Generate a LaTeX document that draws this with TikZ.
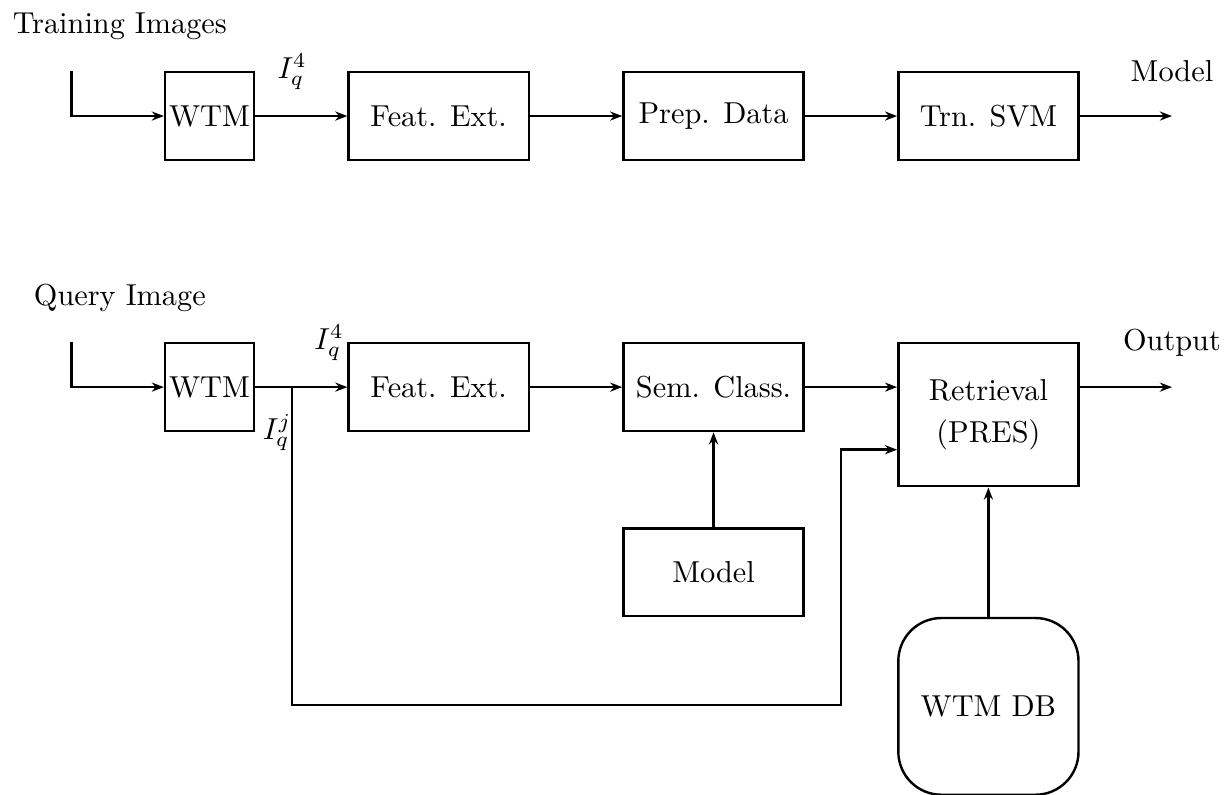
\documentclass[tikz,border=0pt]{standalone}
\usetikzlibrary{positioning,arrows.meta}
\begin{document}
\begin{tikzpicture}[
  node distance=1.07cm,
  block/.style={draw, thick, minimum width=2.09cm, minimum height=1.02cm, inner sep=1pt},
  smallblock/.style={block, minimum width=1.03cm},
  dbblock/.style={draw, thick, rounded corners=0.5cm, minimum width=2.09cm, minimum height=2.05cm},
  arr/.style={thick, -{Stealth[length=4pt, width=3pt]}},
  lbl/.style={anchor=base, inner sep=0pt}
  ]
  \useasboundingbox (0,0) rectangle (14.22,-9.21);

  % training
  \node[lbl] (trainlbl) at (1.39,-0.383) {Training Images};
  \node[smallblock] (wtmA) at (2.43,-1.346) {WTM};
  \node[block, right=of wtmA] (featA) {Feat. Ext.};
  \node[block, right=of featA] (prep) {Prep. Data};
  \node[block, right=of prep] (svm) {Trn. SVM};
  \coordinate (inA) at ([xshift=-1.07cm]wtmA.north west);
  \draw[arr] (inA) |- (wtmA.west);
  \draw[arr] (wtmA) -- (featA);
  \draw[arr] (featA) -- (prep);
  \draw[arr] (prep) -- (svm);
  \draw[arr] (svm.east) -- ++(1.07,0) node[lbl, yshift=0.4cm] (mdlout) {Model};
  \node[lbl] (iqA) at ([xshift=0.43cm, yshift=0.44cm]wtmA.east) {$I_q^4$};

  % query
  \node[lbl] (querylbl) at (1.39,-3.54) {Query Image};
  \node[smallblock] (wtmB) at (2.43,-4.49) {WTM};
  \node[block, right=of wtmB] (featB) {Feat. Ext.};
  \node[block, right=of featB] (sem) {Sem. Class.};
  \node[block, anchor=north west, minimum height=1.66cm, align=center] (ret)
    at ([xshift=1.07cm]sem.north east) {Retrieval\\[1.8pt](PRES)};
  \node[block, below=1.1cm of sem] (model) {Model};
  \node[dbblock, below=1.5cm of ret] (db) {WTM DB};
  \coordinate (inB) at ([xshift=-1.07cm]wtmB.north west);
  \coordinate (br) at ([xshift=0.43cm]wtmB.east);
  \coordinate (retin) at ([yshift=-1.25cm]ret.north west);
  \draw[arr] (inB) |- (wtmB.west);
  \draw[arr] (wtmB.east) -- (featB.west);
  \draw[arr] (featB) -- (sem);
  \draw[arr] (sem.east) -- (sem.east -| ret.west);
  \draw[arr] (model) -- (sem);
  \draw[arr] (db) -- (ret);
  \draw[arr] (br) -- ++(0,-3.69) -| ([xshift=-0.65cm]retin) -- (retin);
  \draw[arr] (ret.east |- sem.east) -- ++(1.07,0) node[lbl, yshift=0.42cm] (outlbl) {Output};
  \node[lbl] (iqB) at ([xshift=0.858cm, yshift=0.44cm]wtmB.east) {$I_q^4$};
  \node[lbl] (iqj) at ([xshift=0.255cm, yshift=-0.603cm]wtmB.east) {$I_q^j$};
\end{tikzpicture}
\end{document}
